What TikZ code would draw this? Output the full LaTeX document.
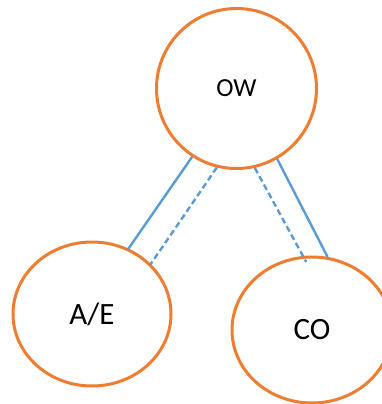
\documentclass[tikz,border=0pt]{standalone}
\usepackage{fontspec}
\setmainfont{Carlito}
\usetikzlibrary{shapes.geometric}
\definecolor{ringorange}{HTML}{ED7D31}
\definecolor{linkblue}{HTML}{5B9BD5}

\begin{document}
\begin{tikzpicture}[x=1pt,y=-1pt,
  ring/.style={draw=ringorange,line width=3pt,inner sep=0pt},
  link/.style={draw=linkblue,line width=2.4pt},
  weak/.style={link,dash pattern=on 6pt off 3.5pt}]
\useasboundingbox (0,0) rectangle (382,404);
\node [ring,circle,minimum size=160pt,font=\fontsize{26}{31}\selectfont] (ow) at (236.5,88.5) {OW};
\node [ring,ellipse,minimum width=158pt,minimum height=144pt,font=\fontsize{31}{37}\selectfont] (ae) at (92,314) {A/E};
\node [ring,ellipse,minimum width=160pt,minimum height=146pt,font=\fontsize{31}{37}\selectfont] (co) at (312,330) {CO};
% links from OW
\draw [link] (ow.237.6) -- ([shift={(2pt,-2pt)}]ae.63.8);
\draw [weak] (ow.256.9) -- ([shift={(4pt,-5pt)}]ae.45);
\draw [weak,shorten >=-7pt] (ow.283) -- (co.97.9);
\draw [link] (ow.300.5) -- (co.78.8);
\end{tikzpicture}
\end{document}
